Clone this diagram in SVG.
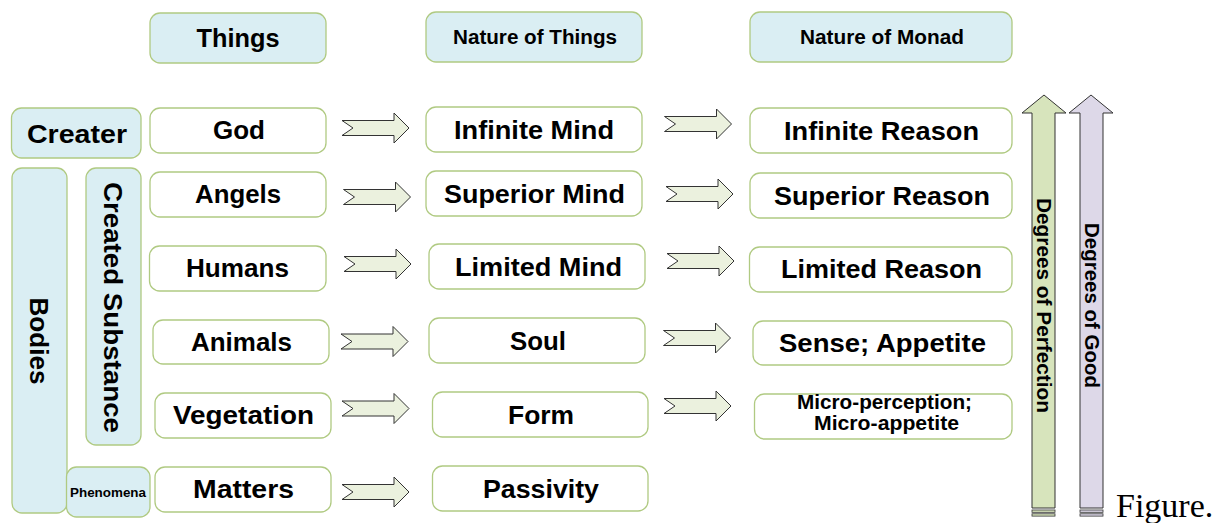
<svg xmlns="http://www.w3.org/2000/svg" width="1222" height="523" viewBox="0 0 1222 523">
<style>
.hd{fill:#daeef3;stroke:#b0ca82;stroke-width:1.3}
.bx{fill:#ffffff;stroke:#b0ca82;stroke-width:1.3}
.t{font-family:"Liberation Sans",Arial,sans-serif;font-weight:bold;fill:#000;text-anchor:middle}
.t26{font-size:26px}
.t20{font-size:20px}
.ar{fill:#ebf1de;stroke:#333;stroke-width:1}
</style>
<defs>
<polygon id="blk" points="0,-7.5 52,-7.5 52,-15 67,0 52,15 52,7.5 0,7.5 11,0" class="ar"/>
</defs>
<rect width="1222" height="523" fill="#fff"/>

<g id="hdr-things"><rect class="hd" x="150" y="13" width="176" height="50" rx="10"/><text class="t t26" x="238" y="47" textLength="83" lengthAdjust="spacingAndGlyphs">Things</text></g>
<g id="hdr-nature"><rect class="hd" x="426" y="12" width="216" height="50" rx="10"/><text class="t t20" x="535" y="44" textLength="164" lengthAdjust="spacingAndGlyphs">Nature of Things</text></g>
<g id="hdr-monad"><rect class="hd" x="750" y="12" width="262" height="50" rx="10"/><text class="t t20" x="882" y="44" textLength="164" lengthAdjust="spacingAndGlyphs">Nature of Monad</text></g>

<g id="creater"><rect class="hd" x="11.5" y="108" width="129.5" height="50" rx="10"/><text class="t t26" x="77" y="143" textLength="100" lengthAdjust="spacingAndGlyphs">Creater</text></g>
<g id="bodies"><rect class="hd" x="12" y="168" width="55" height="345" rx="10"/><text class="t t26" transform="translate(39.5,341) rotate(90)" y="9.5" textLength="87" lengthAdjust="spacingAndGlyphs">Bodies</text></g>
<g id="created-substance"><rect class="hd" x="86" y="168" width="55" height="277" rx="10"/><text class="t t26" transform="translate(113.5,307.5) rotate(90)" y="9.5" textLength="251" lengthAdjust="spacingAndGlyphs">Created Substance</text></g>
<g id="phenomena"><rect class="hd" x="66.5" y="467" width="83.5" height="50" rx="10"/><text class="t" style="font-size:13px" x="108" y="497" textLength="76" lengthAdjust="spacingAndGlyphs">Phenomena</text></g>

<g id="god"><rect class="bx" x="150" y="108" width="176" height="45" rx="10"/><text class="t t26" x="239" y="139" textLength="52" lengthAdjust="spacingAndGlyphs">God</text></g>
<g id="angels"><rect class="bx" x="150" y="172" width="176" height="45" rx="10"/><text class="t t26" x="238" y="203" textLength="86" lengthAdjust="spacingAndGlyphs">Angels</text></g>
<g id="humans"><rect class="bx" x="149.5" y="246" width="176.5" height="45" rx="10"/><text class="t t26" x="237.5" y="277" textLength="103" lengthAdjust="spacingAndGlyphs">Humans</text></g>
<g id="animals"><rect class="bx" x="153" y="320" width="176" height="44" rx="10"/><text class="t t26" x="241.5" y="351" textLength="101" lengthAdjust="spacingAndGlyphs">Animals</text></g>
<g id="vegetation"><rect class="bx" x="155" y="393" width="176" height="45" rx="10"/><text class="t t26" x="243.5" y="424" textLength="141" lengthAdjust="spacingAndGlyphs">Vegetation</text></g>
<g id="matters"><rect class="bx" x="155" y="467" width="176" height="45" rx="10"/><text class="t t26" x="243.5" y="498" textLength="101" lengthAdjust="spacingAndGlyphs">Matters</text></g>

<g id="infinite-mind"><rect class="bx" x="426" y="107" width="216" height="45" rx="10"/><text class="t t26" x="534" y="139" textLength="160" lengthAdjust="spacingAndGlyphs">Infinite Mind</text></g>
<g id="superior-mind"><rect class="bx" x="426" y="171" width="216" height="45" rx="10"/><text class="t t26" x="534.5" y="203" textLength="181" lengthAdjust="spacingAndGlyphs">Superior Mind</text></g>
<g id="limited-mind"><rect class="bx" x="429" y="244" width="216" height="45" rx="10"/><text class="t t26" x="538.5" y="276" textLength="167" lengthAdjust="spacingAndGlyphs">Limited Mind</text></g>
<g id="soul"><rect class="bx" x="429" y="318" width="216" height="45" rx="10"/><text class="t t26" x="538" y="350" textLength="56" lengthAdjust="spacingAndGlyphs">Soul</text></g>
<g id="form"><rect class="bx" x="432.5" y="392" width="215.5" height="45" rx="10"/><text class="t t26" x="541" y="424" textLength="66" lengthAdjust="spacingAndGlyphs">Form</text></g>
<g id="passivity"><rect class="bx" x="432.5" y="466" width="215.5" height="45" rx="10"/><text class="t t26" x="541" y="498" textLength="116" lengthAdjust="spacingAndGlyphs">Passivity</text></g>

<g id="infinite-reason"><rect class="bx" x="750" y="108" width="262" height="45" rx="10"/><text class="t t26" x="881.5" y="140" textLength="195" lengthAdjust="spacingAndGlyphs">Infinite Reason</text></g>
<g id="superior-reason"><rect class="bx" x="750" y="173" width="262" height="45" rx="10"/><text class="t t26" x="882" y="205" textLength="216" lengthAdjust="spacingAndGlyphs">Superior Reason</text></g>
<g id="limited-reason"><rect class="bx" x="749.5" y="247" width="262.5" height="45" rx="10"/><text class="t t26" x="881.5" y="278" textLength="201" lengthAdjust="spacingAndGlyphs">Limited Reason</text></g>
<g id="sense-appetite"><rect class="bx" x="753" y="321" width="259" height="44" rx="10"/><text class="t t26" x="882.5" y="352" textLength="207" lengthAdjust="spacingAndGlyphs">Sense; Appetite</text></g>
<g id="micro"><rect class="bx" x="754.5" y="394" width="257.5" height="45" rx="10"/><text class="t t20" x="884.5" y="409" textLength="175" lengthAdjust="spacingAndGlyphs">Micro-perception;</text><text class="t t20" x="886.5" y="430" textLength="145" lengthAdjust="spacingAndGlyphs">Micro-appetite</text></g>

<g id="connectors">
<use href="#blk" x="342" y="128"/>
<use href="#blk" x="343.5" y="197"/>
<use href="#blk" x="344" y="264"/>
<use href="#blk" x="341" y="341.5"/>
<use href="#blk" x="342" y="408.5"/>
<use href="#blk" x="342" y="492"/>
<use href="#blk" x="664.5" y="124"/>
<use href="#blk" x="666" y="194"/>
<use href="#blk" x="667" y="261"/>
<use href="#blk" x="663.5" y="338"/>
<use href="#blk" x="664" y="406"/>
</g>

<g id="degrees-perfection">
<polygon points="1044,95 1066,113 1055,113 1055,508 1032,508 1032,113 1022,113" fill="#d7e4bc" stroke="#333" stroke-width="1"/>
<rect x="1032" y="510" width="23" height="2.3" fill="#d7e4bc" stroke="#333" stroke-width="0.8"/>
<rect x="1032" y="513.8" width="23" height="2.3" fill="#d7e4bc" stroke="#333" stroke-width="0.8"/>
<text class="t" style="font-size:21px" transform="translate(1044,305.5) rotate(90)" y="7" textLength="215" lengthAdjust="spacingAndGlyphs">Degrees of Perfection</text>
</g>
<g id="degrees-good">
<polygon points="1091,95 1113,113 1103,113 1103,508 1080,508 1080,113 1069,113" fill="#ddd8e8" stroke="#333" stroke-width="1"/>
<rect x="1080" y="510" width="23" height="2.3" fill="#ddd8e8" stroke="#333" stroke-width="0.8"/>
<rect x="1080" y="513.8" width="23" height="2.3" fill="#ddd8e8" stroke="#333" stroke-width="0.8"/>
<text class="t" style="font-size:21px" transform="translate(1091.5,305.5) rotate(90)" y="7" textLength="165" lengthAdjust="spacingAndGlyphs">Degrees of Good</text>
</g>

<text x="1116" y="517" font-family="'Liberation Serif','Times New Roman',serif" font-size="34" fill="#000">Figure.</text>
</svg>
